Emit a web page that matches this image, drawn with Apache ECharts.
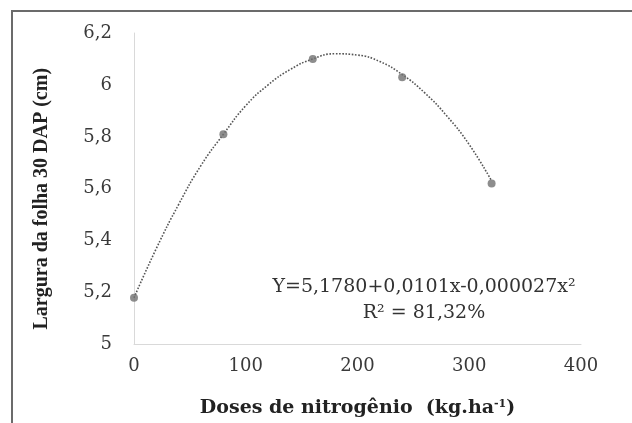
<!DOCTYPE html>
<html>
<head>
<meta charset="utf-8">
<script src="https://cdn.jsdelivr.net/npm/echarts@6/dist/echarts.min.js"></script>
<style>
  html, body { margin: 0; padding: 0; background: #fff; }
  #chatMain { width: 632px; height: 423px; }
</style>
</head>
<body>
<div id="chatMain"></div>
<script>
// doses de N (kg/ha) e largura da folha (cm)
var doses = [0, 80, 160, 240, 320];
var largura = [5.18, 5.81, 6.10, 6.03, 5.62];

// linha de tendencia
var trendX = [0, 20, 40, 60, 80, 100, 120, 140, 160, 180, 200, 220, 240, 260, 280, 300, 320];
var trendY = [5.18, 5.37, 5.54, 5.69, 5.81, 5.92, 6.00, 6.06, 6.10, 6.12, 6.115, 6.09, 6.04, 5.97, 5.88, 5.77, 5.63];

var xTicks = [0, 100, 200, 300, 400];
var yTicks = [5, 5.2, 5.4, 5.6, 5.8, 6, 6.2];

var serif = '"Liberation Serif", "Times New Roman", serif';
var wide = '"DejaVu Serif", serif';

var myChart = echarts.init(document.getElementById('chatMain'));

myChart.setOption({
  animation: false,
  backgroundColor: '#fff',
  grid: { left: 134, right: 51, top: 33, bottom: 77 },
  xAxis: {
    type: 'value',
    min: xTicks[0],
    max: xTicks[xTicks.length - 1],
    interval: 100,
    axisLine: { lineStyle: { color: '#d9d9d9', width: 1 } },
    axisTick: { show: false },
    splitLine: { show: false },
    axisLabel: { color: '#3a3a3a', fontFamily: wide, fontSize: 18, margin: 13 },
    name: '{b|Doses de nitrogênio  (kg.ha}{s|-1}{b|)}',
    nameLocation: 'middle',
    nameGap: 54,
    nameTextStyle: {
      rich: {
        b: { fontFamily: wide, fontSize: 19, fontWeight: 'bold', color: '#222' },
        s: { fontFamily: wide, fontSize: 11, fontWeight: 'bold', color: '#222', verticalAlign: 'top', padding: [0, 0, 9, 0] }
      }
    }
  },
  yAxis: {
    type: 'value',
    min: yTicks[0],
    max: yTicks[yTicks.length - 1],
    interval: 0.2,
    axisLine: { show: true, lineStyle: { color: '#d9d9d9', width: 1 } },
    axisTick: { show: false },
    splitLine: { show: false },
    axisLabel: {
      color: '#3a3a3a', fontFamily: wide, fontSize: 18, margin: 22,
      formatter: function (v) { return String(Math.round(v * 10) / 10).replace('.', ','); }
    },
    name: 'Largura da folha 30 DAP (cm)',
    nameLocation: 'middle',
    nameGap: 82,
    nameTextStyle: { fontFamily: serif, fontSize: 20, fontWeight: 'bold', color: '#222', padding: [0, 20, 0, 0] }
  },
  graphic: [
    {
      type: 'rect',
      shape: { x: 12, y: 11, width: 700, height: 500 },
      style: { fill: 'none', stroke: '#6b6b6b', lineWidth: 2 },
      silent: true
    },
    {
      type: 'text',
      x: 424, y: 300,
      style: {
        text: 'Y=5,1780+0,0101x-0,000027x²\nR² = 81,32%',
        align: 'center',
        verticalAlign: 'middle',
        font: '19px ' + wide,
        fill: '#333',
        lineHeight: 26
      }
    }
  ],
  series: [
    {
      type: 'line',
      data: trendX.map(function (x, i) { return [x, trendY[i]]; }),
      smooth: true,
      showSymbol: false,
      lineStyle: { color: '#555', width: 1.6, type: 'dotted' },
      z: 2
    },
    {
      type: 'scatter',
      data: doses.map(function (x, i) { return [x, largura[i]]; }),
      symbolSize: 8,
      itemStyle: { color: '#707070' },
      z: 3
    }
  ]
});
</script>
</body>
</html>
